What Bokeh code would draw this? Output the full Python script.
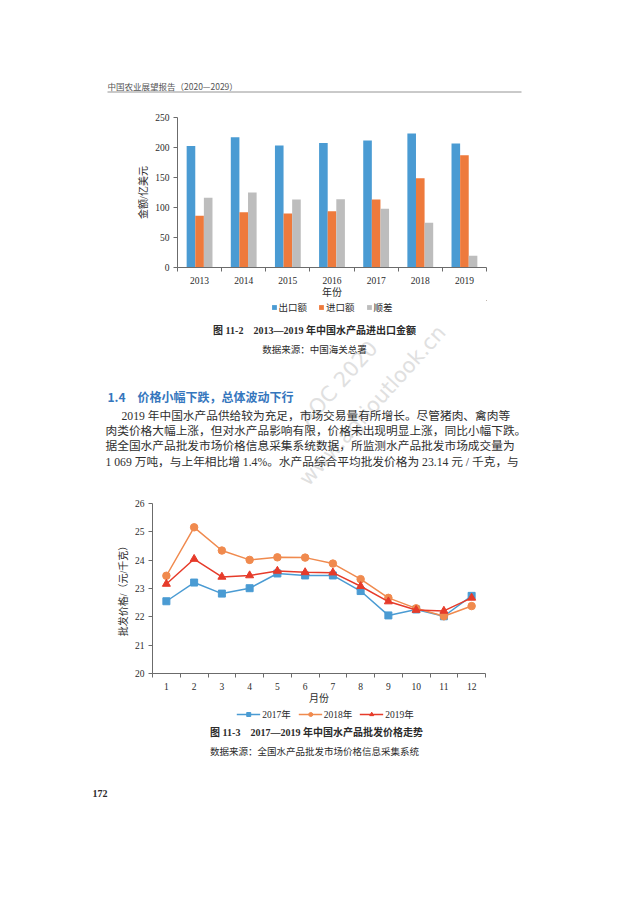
from bokeh.plotting import figure
from bokeh.models import ColumnDataSource, FixedTicker, Legend, LegendItem, Range1d
from bokeh.embed import file_html
from bokeh.resources import INLINE
from bokeh.core.properties import value
import math

# ---------------- data ----------------
years = ["2013", "2014", "2015", "2016", "2017", "2018", "2019"]
exports = [202.6, 217.0, 203.3, 207.4, 211.5, 223.3, 206.6]
imports = [86.4, 91.9, 89.8, 93.7, 113.5, 148.6, 187.0]
surplus = [116.2, 125.1, 113.5, 113.7, 98.0, 74.7, 19.6]
bar_series = ["出口额", "进口额", "顺差"]
bar_ticks = [0, 50, 100, 150, 200, 250]

months = ["1", "2", "3", "4", "5", "6", "7", "8", "9", "10", "11", "12"]
price_2017 = [22.55, 23.21, 22.82, 23.01, 23.53, 23.46, 23.46, 22.91, 22.05, 22.26, 22.02, 22.74]
price_2018 = [23.45, 25.16, 24.34, 24.01, 24.10, 24.09, 23.88, 23.33, 22.67, 22.30, 22.02, 22.38]
price_2019 = [23.16, 24.04, 23.41, 23.46, 23.62, 23.57, 23.56, 23.08, 22.54, 22.24, 22.21, 22.67]
line_series = ["2017年", "2018年", "2019年"]
price_ticks = [20, 21, 22, 23, 24, 25, 26]

header_text = "中国农业展望报告（2020—2029）"
caption1 = "图 11-2　2013—2019 年中国水产品进出口金额"
source1 = "数据来源：中国海关总署"
heading = "1.4　价格小幅下跌，总体波动下行"
body_lines = [
    "2019 年中国水产品供给较为充足，市场交易量有所增长。尽管猪肉、禽肉等",
    "肉类价格大幅上涨，但对水产品影响有限，价格未出现明显上涨，同比小幅下跌。",
    "据全国水产品批发市场价格信息采集系统数据，所监测水产品批发市场成交量为",
    "1 069 万吨，与上年相比增 1.4%。水产品综合平均批发价格为 23.14 元 / 千克，与",
]
caption2 = "图 11-3　2017—2019 年中国水产品批发价格走势"
source2 = "数据来源：全国水产品批发市场价格信息采集系统"
page_no = "172"
watermark = ["AOC 2020", "www.agrioutlook.cn"]

# ---------------- styles ----------------
SERIF = "Liberation Serif, Noto Sans CJK SC"
SANS = "Noto Sans CJK SC"
BLUE = "#4A9BD3"
ORANGE = "#EE7A3C"
GRAY = "#BDBDBD"
L_BLUE = "#4A9BD3"
L_ORANGE = "#F08A4E"
L_RED = "#E63B2A"
AXIS = "#6b6b6b"
TXT = "#2b2b2b"
WM = "#e0e0e0"
W = 633
WM_ANGLE = math.radians(48)
WM_POS = [(338, 383), (372, 405)]   # page-pixel centres of the two watermark lines
WM_SIZE = "21px"


def bare(p):
    p.grid.visible = False
    p.outline_line_color = None
    p.background_fill_color = "white"
    p.border_fill_color = "white"


def text_fig(y0, y1):
    """A strip of the page, y0..y1 in page pixels, whose frame is the whole strip."""
    p = figure(width=W, height=y1 - y0, x_range=Range1d(0, W), y_range=Range1d(y1, y0),
               x_axis_location=None, y_axis_location=None,
               output_backend="svg", toolbar_location=None,
               min_border_left=0, min_border_right=0, min_border_top=0, min_border_bottom=0)
    bare(p)
    return p


def put(p, x, y, text, size, font=SERIF, align="left", color=TXT, bold=False, angle=0.0):
    p.text(x=[x], y=[y], text=[text], text_align=align, text_baseline="middle",
           text_font=value(font), text_font_size=value(size), text_color=color,
           text_font_style="bold" if bold else "normal", angle=angle)


def style_axes(p):
    bare(p)
    for ax in (p.xaxis[0], p.yaxis[0]):
        ax.axis_line_color = AXIS
        ax.axis_line_width = 1
        ax.major_label_text_font = SERIF
        ax.major_label_text_font_size = "9.5px"
        ax.major_label_text_color = TXT
        ax.axis_label_text_font = SERIF
        ax.axis_label_text_font_size = "10px"
        ax.axis_label_text_font_style = "normal"
        ax.axis_label_text_color = TXT
    xa = p.xaxis[0]
    xa.major_tick_line_color = None
    xa.major_tick_out = 0
    xa.major_tick_in = 0
    xa.minor_tick_line_color = AXIS
    xa.minor_tick_out = 4
    xa.minor_tick_in = 0
    xa.major_label_standoff = 5
    xa.axis_label_standoff = 0
    ya = p.yaxis[0]
    ya.major_tick_line_color = AXIS
    ya.major_tick_out = 4
    ya.major_tick_in = 0
    ya.minor_tick_line_color = None
    ya.major_label_standoff = 4
    ya.axis_label_standoff = 3


def legend_fig(y0, y1, left, right):
    # ranges are far away from the data, so only the legend itself is visible
    p = figure(width=W, height=y1 - y0, x_range=Range1d(-1000, -999), y_range=Range1d(-1000, -999),
               x_axis_location=None, y_axis_location=None,
               output_backend="svg", toolbar_location=None,
               min_border_left=left, min_border_right=W - right,
               min_border_top=0, min_border_bottom=0)
    bare(p)
    return p


def add_legend(p, items, gw, gh, spacing):
    leg = Legend(items=items, orientation="horizontal", location="center",
                 border_line_color=None, background_fill_alpha=0,
                 glyph_width=gw, glyph_height=gh, label_height=11, label_width=10,
                 label_standoff=2, spacing=spacing, padding=0, margin=0,
                 label_text_font=SERIF, label_text_font_size="9.5px",
                 label_text_color=TXT, label_text_baseline="middle")
    p.add_layout(leg)


roots = []

# ---------- header strip (page y 0..110) ----------
r0 = text_fig(0, 110)
put(r0, 107, 85, header_text, "8.5px", font=SANS, color="#555555")
r0.segment(x0=[107], y0=[91.5], x1=[521], y1=[91.5], line_color="#7a7a7a", line_width=0.8)
roots.append(r0)

# ---------- bar chart (page y 110..300; frame x 177..486, y 117..268) ----------
n = len(years)
p1 = figure(width=W, height=190, x_range=Range1d(0.5, n + 0.5), y_range=Range1d(0, 250),
            output_backend="svg", toolbar_location=None,
            min_border_left=177, min_border_right=W - 486,
            min_border_top=7, min_border_bottom=32)
style_axes(p1)
xs = list(range(1, n + 1))
bw = 0.195
src1 = ColumnDataSource(dict(x=xs, x_e=[v - bw for v in xs], x_s=[v + bw for v in xs],
                             exports=exports, imports=imports, surplus=surplus))
bar_cols = [("x_e", "exports", BLUE), ("x", "imports", ORANGE), ("x_s", "surplus", GRAY)]
for xc, yc, col in bar_cols:
    p1.vbar(x=xc, top=yc, width=bw, source=src1, fill_color=col, line_color=None)
p1.xaxis.ticker = FixedTicker(ticks=xs, minor_ticks=[v + 0.5 for v in range(0, n + 1)])
p1.xaxis.major_label_overrides = {v: years[v - 1] for v in xs}
p1.yaxis.ticker = FixedTicker(ticks=bar_ticks)
p1.xaxis.axis_label = "年份"
p1.yaxis.axis_label = "金额/亿美元"
roots.append(p1)

# ---------- legend of bar chart (page y 300..314) ----------
lf1 = legend_fig(300, 314, 177, 486)
items1 = []
for (xc, yc, col), name in zip(bar_cols, bar_series):
    rr = lf1.vbar(x=xc, top=yc, width=bw, source=src1, fill_color=col, line_color=None)
    items1.append(LegendItem(label=name, renderers=[rr]))
add_legend(lf1, items1, 6, 6, 11)
roots.append(lf1)

# ---------- text strip (page y 314..495) ----------
r3 = text_fig(314, 495)
for t, (wx, wy) in zip(watermark, WM_POS):
    put(r3, wx, wy, t, WM_SIZE, font="DejaVu Sans", align="center", color=WM, angle=WM_ANGLE)
put(r3, 314, 330, caption1, "10px", align="center", bold=True)
put(r3, 314, 349, source1, "9.5px", align="center")
put(r3, 107, 396, heading, "12px", font=SANS, color="#3576BD", bold=True)
body_y = [415.7, 431.0, 446.3, 461.5]
body_x = [121, 105, 105, 105]
for t, bx, by in zip(body_lines, body_x, body_y):
    put(r3, bx, by, t, "11.7px", color="#2f2f2f")
roots.append(r3)

# ---------- line chart (page y 495..707; frame x 152..485, y 503..673) ----------
m = len(months)
p2 = figure(width=W, height=212, x_range=Range1d(0.5, m + 0.5), y_range=Range1d(20, 26),
            output_backend="svg", toolbar_location=None,
            min_border_left=152, min_border_right=W - 485,
            min_border_top=8, min_border_bottom=34)
style_axes(p2)
mx = list(range(1, m + 1))
src2 = ColumnDataSource(dict(x=mx, a=price_2017, b=price_2018, c=price_2019))
line_specs = [("a", L_BLUE, "square", 7), ("b", L_ORANGE, "circle", 7.5), ("c", L_RED, "triangle", 8)]
for yc, col, mk, sz in line_specs:
    p2.line("x", yc, source=src2, line_color=col, line_width=1.5)
    p2.scatter("x", yc, source=src2, marker=mk, size=sz, fill_color=col, line_color=col)
p2.xaxis.ticker = FixedTicker(ticks=mx, minor_ticks=[v + 0.5 for v in range(0, m + 1)])
p2.xaxis.major_label_overrides = {v: months[v - 1] for v in mx}
p2.yaxis.ticker = FixedTicker(ticks=price_ticks)
p2.xaxis.axis_label = "月份"
p2.yaxis.axis_label = "批发价格/（元/千克）"
roots.append(p2)

# ---------- legend of line chart (page y 707..721) ----------
lf2 = legend_fig(707, 721, 160, 490)
items2 = []
for (yc, col, mk, sz), name in zip(line_specs, line_series):
    lr = lf2.line("x", yc, source=src2, line_color=col, line_width=1.5)
    sr = lf2.scatter("x", yc, source=src2, marker=mk, size=sz, fill_color=col, line_color=col)
    items2.append(LegendItem(label=name, renderers=[lr, sr]))
add_legend(lf2, items2, 24, 10, 7)
roots.append(lf2)

# ---------- bottom text strip (page y 721..907) ----------
r6 = text_fig(721, 907)
put(r6, 316, 732, caption2, "10px", align="center", bold=True)
put(r6, 314, 751, source2, "9.5px", align="center")
put(r6, 92, 793, page_no, "10px", bold=True)
roots.append(r6)

open("out.html", "w").write(file_html(roots, INLINE))
